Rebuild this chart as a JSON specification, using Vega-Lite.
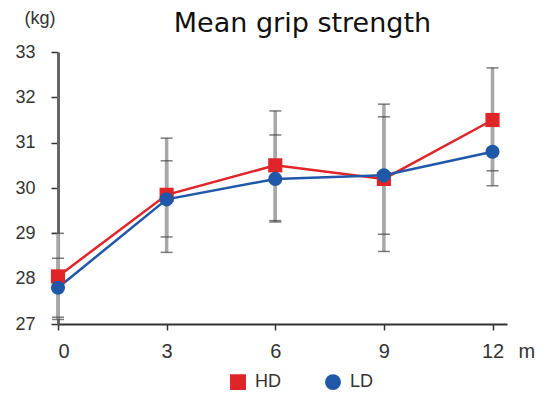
{
  "$schema": "https://vega.github.io/schema/vega-lite/v6.json",
  "width": 449,
  "height": 272,
  "autosize": "none",
  "padding": {"left": 58, "top": 52, "right": 40, "bottom": 71},
  "background": "white",
  "title": {
    "text": "Mean grip strength",
    "font": "DejaVu Sans",
    "fontSize": 27,
    "fontWeight": "normal",
    "color": "#111",
    "dx": 20,
    "offset": 20,
    "dy": 70,
    "baseline": "alphabetic"
  },
  "data": {
    "values": [
      {"month": 0, "group": "HD", "mean": 28.05, "lo": 27.1, "hi": 29.0},
      {"month": 3, "group": "HD", "mean": 29.85, "lo": 28.58, "hi": 31.1},
      {"month": 6, "group": "HD", "mean": 30.5, "lo": 29.28, "hi": 31.7},
      {"month": 9, "group": "HD", "mean": 30.2, "lo": 28.6, "hi": 31.85},
      {"month": 12, "group": "HD", "mean": 31.5, "lo": 30.38, "hi": 32.65},
      {"month": 0, "group": "LD", "mean": 27.8, "lo": 27.15, "hi": 28.45},
      {"month": 3, "group": "LD", "mean": 29.75, "lo": 28.92, "hi": 30.6},
      {"month": 6, "group": "LD", "mean": 30.2, "lo": 29.25, "hi": 31.17},
      {"month": 9, "group": "LD", "mean": 30.28, "lo": 28.98, "hi": 31.57},
      {"month": 12, "group": "LD", "mean": 30.8, "lo": 30.05, "hi": 31.55}
    ]
  },
  "encoding": {
    "x": {
      "field": "month",
      "type": "quantitative",
      "scale": {"domain": [0, 12.4], "nice": false},
      "axis": {
        "values": [0, 3, 6, 9, 12],
        "title": "m",
        "titleX": 460,
        "titleY": 27,
        "titleAlign": "left",
        "titleBaseline": "middle",
        "titleFontSize": 20,
        "titleFontWeight": "normal",
        "titleColor": "#333",
        "labelFontSize": 20,
        "labelColor": "#333",
        "labelPadding": 11,
        "tickSize": 6,
        "tickColor": "#333",
        "tickWidth": 1.5,
        "domainColor": "#333",
        "domainWidth": 2,
        "grid": false
      }
    }
  },
  "layer": [
    {
      "mark": {"type": "rule", "color": "#a8a8a8", "strokeWidth": 3.5},
      "encoding": {
        "y": {"field": "lo", "type": "quantitative"},
        "y2": {"field": "hi"}
      }
    },
    {
      "mark": {"type": "tick", "color": "#444", "thickness": 1.5, "size": 12, "orient": "horizontal"},
      "encoding": {"y": {"field": "lo", "type": "quantitative"}}
    },
    {
      "mark": {"type": "tick", "color": "#444", "thickness": 1.5, "size": 12, "orient": "horizontal"},
      "encoding": {"y": {"field": "hi", "type": "quantitative"}}
    },
    {
      "mark": {"type": "line", "strokeWidth": 2.5},
      "encoding": {
        "y": {
          "field": "mean",
          "type": "quantitative",
          "scale": {"domain": [27, 33], "nice": false, "zero": false},
          "axis": {
            "values": [27, 28, 29, 30, 31, 32, 33],
            "title": "(kg)",
            "titleAngle": 0,
            "titleX": -34,
            "titleY": -34,
            "titleAlign": "left",
            "titleBaseline": "middle",
            "titleFontSize": 18,
            "titleFontWeight": "normal",
            "titleColor": "#333",
            "labelFontSize": 18,
            "labelColor": "#333",
            "labelPadding": 16,
            "tickSize": 7,
            "tickColor": "#333",
            "tickWidth": 1.5,
            "domainColor": "#666",
            "domainWidth": 3,
            "grid": false
          }
        },
        "color": {
          "field": "group",
          "type": "nominal",
          "scale": {"domain": ["HD", "LD"], "range": ["#df2528", "#1f58a8"]}
        }
      }
    },
    {
      "mark": {"type": "point", "filled": true, "opacity": 1},
      "encoding": {
        "y": {"field": "mean", "type": "quantitative"},
        "color": {
          "field": "group",
          "type": "nominal",
          "scale": {"domain": ["HD", "LD"], "range": ["#df2528", "#1f58a8"]}
        },
        "shape": {
          "field": "group",
          "type": "nominal",
          "scale": {"domain": ["HD", "LD"], "range": ["square", "circle"]}
        },
        "size": {"value": 200}
      }
    }
  ],
  "config": {
    "font": "Liberation Sans",
    "view": {"stroke": null},
    "legend": {
      "orient": "none",
      "legendX": 171,
      "legendY": 321,
      "padding": 0,
      "direction": "horizontal",
      "title": null,
      "labelFontSize": 18,
      "labelColor": "#333",
      "labelOffset": 8,
      "columnPadding": 40,
      "symbolSize": 180,
      "symbolStrokeWidth": 2.5
    }
  }
}
